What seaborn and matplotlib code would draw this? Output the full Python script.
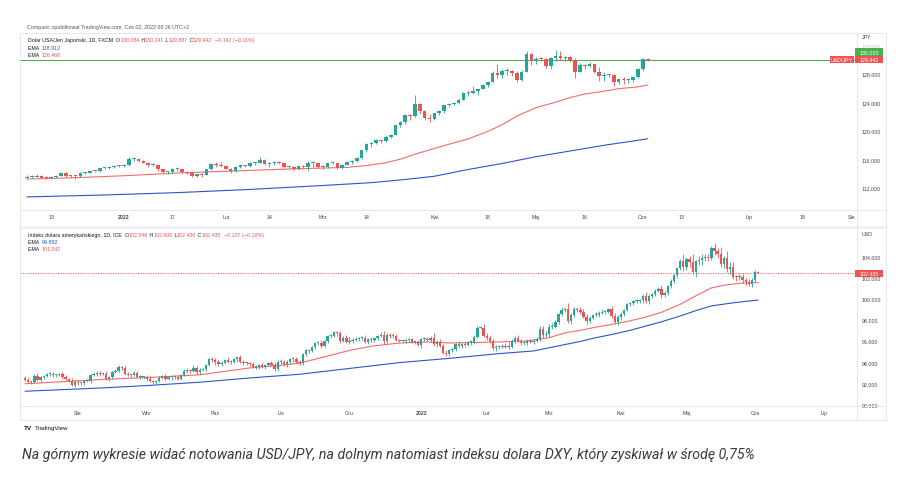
import matplotlib
matplotlib.use("Agg")
import matplotlib.pyplot as plt
from matplotlib.lines import Line2D
from matplotlib.patches import Rectangle
import numpy as np
import pandas as pd
import seaborn as sns

# ── USD/JPY daily candles, 2021-12-06 .. 2022-06-02 (weekdays) ───────────────
TOP_FIRST_OPEN = 113.45
TOP_CLOSE = [
    113.50, 113.55, 113.70, 113.45, 113.40,
    113.55, 113.75, 114.05, 113.70, 113.70,
    113.65, 114.10, 114.10, 114.40, 114.35,
    114.80, 114.80, 114.95, 115.10, 115.05,
    115.30, 116.10, 116.10, 115.85, 115.55,
    115.20, 115.30, 114.60, 114.20, 114.20,
    114.60, 114.60, 114.30, 114.10, 113.70,
    113.90, 113.85, 114.65, 115.35, 115.25,
    115.10, 114.70, 114.40, 114.95, 115.20,
    115.10, 115.55, 115.55, 116.00, 115.40,
    115.55, 115.65, 115.45, 114.90, 114.95,
    114.70, 115.05, 114.95, 115.50, 115.55,
    114.95, 114.90, 115.45, 115.50, 114.80,
    115.30, 115.70, 115.85, 116.15, 117.30,
    118.15, 118.30, 118.75, 118.60, 119.15,
    119.45, 120.80, 121.20, 122.30, 122.05,
    123.85, 122.85, 121.85, 121.70, 122.50,
    122.75, 123.60, 123.80, 123.95, 124.35,
    125.35, 125.35, 125.60, 125.90, 126.40,
    126.95, 128.15, 127.85, 128.40, 128.50,
    128.10, 127.20, 128.35, 130.80, 129.85,
    130.15, 130.10, 129.10, 130.20, 130.55,
    130.30, 130.45, 129.95, 128.35, 129.25,
    129.15, 129.40, 128.30, 127.80, 127.85,
    127.90, 126.85, 127.30, 127.10, 127.10,
    127.60, 128.70, 130.08, 129.94,
]
TOP_HIGH = [
    113.80, 113.80, 113.95, 113.80, 113.70,
    113.70, 113.85, 114.25, 114.25, 113.85,
    113.80, 114.20, 114.30, 114.45, 114.45,
    114.85, 115.00, 115.05, 115.20, 115.20,
    115.40, 116.35, 116.25, 116.20, 115.95,
    115.70, 115.55, 115.30, 114.65, 114.35,
    114.80, 114.90, 114.70, 114.45, 114.20,
    114.00, 114.05, 114.70, 115.45, 115.65,
    115.60, 115.20, 114.75, 115.15, 115.35,
    115.30, 115.70, 115.65, 116.35, 116.10,
    115.60, 115.80, 115.75, 115.50, 115.10,
    115.10, 115.20, 115.20, 115.75, 115.75,
    115.70, 115.20, 115.55, 115.80, 115.55,
    115.40, 115.80, 116.00, 116.30, 117.35,
    118.30, 118.45, 118.90, 118.80, 119.40,
    119.55, 120.90, 121.40, 122.40, 122.45,
    125.10, 124.00, 123.00, 122.40, 122.60,
    122.90, 123.70, 124.00, 124.05, 124.70,
    125.50, 125.65, 126.30, 125.90, 126.65,
    127.05, 128.40, 129.40, 128.65, 128.85,
    128.60, 128.45, 128.60, 131.25, 131.00,
    130.40, 130.35, 130.30, 130.40, 131.35,
    131.20, 130.50, 130.50, 130.20, 129.50,
    129.40, 129.75, 129.50, 128.95, 128.30,
    128.00, 127.95, 127.50, 127.55, 127.45,
    127.65, 128.85, 130.20, 130.24,
]
TOP_LOW = [
    113.35, 113.35, 113.50, 113.35, 113.25,
    113.30, 113.40, 113.65, 113.60, 113.50,
    113.20, 113.60, 113.95, 114.05, 114.20,
    114.30, 114.65, 114.70, 114.80, 114.95,
    114.95, 115.15, 115.80, 115.70, 115.45,
    115.00, 115.15, 114.45, 114.10, 113.95,
    114.15, 114.35, 114.15, 114.00, 113.60,
    113.50, 113.50, 113.80, 114.50, 115.00,
    114.95, 114.60, 114.15, 114.30, 114.75,
    114.90, 115.00, 115.30, 115.45, 115.30,
    115.00, 115.30, 115.40, 114.85, 114.80,
    114.50, 114.55, 114.85, 114.40, 115.00,
    114.75, 114.70, 114.80, 115.40, 114.70,
    114.65, 115.20, 115.40, 115.70, 116.10,
    117.10, 117.70, 118.20, 118.35, 118.50,
    119.00, 119.40, 120.50, 121.00, 121.60,
    121.95, 122.40, 121.50, 121.30, 121.60,
    122.30, 122.60, 123.40, 123.60, 123.85,
    124.30, 124.90, 125.20, 125.10, 125.90,
    126.20, 126.90, 127.50, 127.40, 127.85,
    127.75, 126.95, 127.00, 128.30, 129.30,
    129.45, 129.80, 128.80, 128.70, 129.90,
    130.00, 129.85, 129.70, 127.50, 128.40,
    128.65, 128.95, 128.20, 127.00, 127.05,
    127.55, 126.35, 126.60, 126.55, 126.75,
    126.85, 127.40, 128.50, 129.89,
]
TOP_EMA_RED_DATES = ["2021-12-06", "2021-12-20", "2022-01-04", "2022-01-18", "2022-02-01",
                     "2022-02-15", "2022-03-01", "2022-03-08", "2022-03-14", "2022-03-18",
                     "2022-03-23", "2022-03-28", "2022-04-01", "2022-04-06", "2022-04-12",
                     "2022-04-18", "2022-04-21", "2022-04-26", "2022-05-02", "2022-05-06",
                     "2022-05-11", "2022-05-16", "2022-05-20", "2022-05-25", "2022-05-31",
                     "2022-06-02"]
TOP_EMA_RED = [113.25, 113.45, 113.75, 114.10, 114.35, 114.60, 114.80, 114.90, 115.15,
               115.55, 116.05, 116.75, 117.55, 118.15, 118.90, 119.95, 120.90, 122.10,
               123.30, 124.05, 124.70, 125.20, 125.60, 125.95, 126.20, 126.47]
TOP_EMA_BLUE_DATES = ["2021-12-06", "2021-12-27", "2022-01-18", "2022-02-08", "2022-03-01",
                      "2022-03-15", "2022-03-24", "2022-04-01", "2022-04-12", "2022-04-21",
                      "2022-05-02", "2022-05-11", "2022-05-20", "2022-05-27", "2022-06-02"]
TOP_EMA_BLUE = [110.75, 111.00, 111.35, 111.80, 112.35, 112.75, 113.20, 113.65, 114.60,
                115.45, 116.40, 117.20, 118.00, 118.50, 118.91]

# ── DXY daily candles, 2021-07-08 .. 2022-06-02 (weekdays) ───────────────────
BOT_FIRST_OPEN = 92.55
BOT_CLOSE = [
    92.40, 92.15, 92.20, 92.75, 92.40, 92.65, 92.70, 92.90, 92.95, 92.80, 92.80, 92.90,
    92.65, 92.45, 92.30, 91.90, 92.20,
    92.05, 92.05, 92.30, 92.25, 92.80, 92.95, 93.05, 92.90, 92.95, 92.50, 92.60, 93.15,
    93.25, 93.55, 93.50, 92.95, 92.85, 92.85, 93.05, 92.65, 92.65, 92.65,
    92.50, 92.25, 92.15, 92.30, 92.55, 92.70, 92.50, 92.60, 92.65, 92.60, 92.50, 92.85,
    93.20, 93.25, 93.20, 93.45, 93.10, 93.30, 93.35, 93.75, 94.35, 94.25,
    94.05, 93.85, 94.00, 94.20, 94.05, 94.10, 94.30, 94.50, 94.05, 93.95, 93.95, 93.90,
    93.55, 93.60, 93.75, 93.60, 93.80, 93.95, 93.80, 93.35, 94.10,
    94.05, 93.90, 94.05, 94.35, 94.30, 94.05, 93.95, 94.85, 95.15, 95.10, 95.45, 95.85,
    95.85, 95.55, 96.05, 96.50, 96.50, 96.85, 96.75, 96.05, 96.35, 95.95,
    96.05, 96.15, 96.20, 96.30, 96.35, 95.95, 96.20, 96.10, 96.30, 96.55, 96.60, 96.00,
    96.65, 96.55, 96.50, 96.10, 96.05, 96.05, 96.10, 96.20, 95.95, 95.95, 95.65,
    96.20, 96.25, 96.15, 96.35, 95.75, 95.95, 95.60, 94.95, 94.80, 95.15, 95.25, 95.75,
    95.55, 95.75, 95.65, 95.90, 95.95, 96.45, 97.25, 97.25, 96.55,
    96.35, 96.00, 95.35, 95.50, 95.45, 95.60, 95.50, 95.50, 96.05, 96.30, 96.05, 95.85,
    95.85, 96.05, 95.95, 96.05, 96.20, 97.15, 96.60, 96.70,
    97.40, 97.40, 97.80, 98.60, 99.00, 99.05, 97.95, 98.50, 99.10, 99.00, 98.75, 98.35,
    97.95, 98.25, 98.50, 98.50, 98.65, 98.80, 98.80, 99.05, 98.40, 97.80, 98.30,
    98.60, 99.00, 99.50, 99.60, 99.80, 99.80, 99.90, 100.30, 99.80, 100.30, 100.50,
    100.80, 100.95, 100.40, 100.60, 101.20, 101.70, 102.30, 102.95, 103.60, 103.00,
    103.75, 103.45, 102.55, 103.55, 103.65, 103.90, 103.90, 103.85, 104.85, 104.55,
    104.20, 103.35, 103.85, 102.85, 103.05, 102.10, 102.05, 102.10, 101.80, 101.65,
    101.40, 101.75,
    102.55, 102.435,
]
BOT_WICK_UP = [
    .15, .20, .10, .15, .25, .10, .10, .15, .20, .20, .10, .15, .20, .15, .10, .25, .15,
    .20, .15, .10, .15, .10, .15, .15, .20, .10, .30, .15, .10, .15, .20, .10, .25, .15,
    .10, .15, .20, .15, .10,
    .15, .20, .10, .10, .15, .10, .20, .15, .10, .15, .25, .10, .15, .20, .15, .30, .20,
    .15, .10, .15, .10, .20,
    .15, .20, .15, .10, .30, .15, .15, .05, .20, .15, .10, .10, .20, .15, .15, .20, .10,
    .15, .20, .30, .10,
    .20, .15, .20, .10, .15, .20, .15, .10, .10, .15, .15, .10, .15, .25, .10, .15, .20,
    .10, .10, .25, .20, .30,
    .35, .15, .20, .15, .20, .30, .15, .20, .15, .10, .25, .35, .10, .15, .20, .20, .10,
    .10, .15, .15, .15, .10, .15,
    .10, .15, .20, .20, .40, .20, .25, .20, .20, .15, .10, .10, .25, .10, .20, .15, .15,
    .20, .20, .20, .35,
    .20, .25, .20, .20, .15, .15, .25, .40, .15, .20, .30, .15, .20, .15, .20, .15, .20,
    .30, .35, .25,
    .20, .30, .20, .10, .25, .20, .60, .20, .15, .15, .25, .30, .25, .15, .10, .30, .20,
    .25, .20, .10, .30, .25, .15,
    .20, .10, .15, .15, .10, .20, .10, .15, .40, .15, .10, .10, .20, .40, .15, .10, .15,
    .10, .10, .20, .60,
    .25, .30, .80, .15, .40, .30, .35, .30, .15, .40, .25, .70, .20, .65, .45, .40, .20,
    .25, .30, .20, .25, .20,
    .20, .06,
]
BOT_WICK_DOWN = [
    .15, .10, .20, .10, .15, .20, .15, .10, .15, .20, .15, .10, .15, .20, .15, .10, .20,
    .15, .20, .15, .10, .15, .10, .20, .15, .10, .15, .20, .15, .10, .15, .20, .10, .15,
    .20, .15, .10, .20, .15,
    .20, .10, .15, .20, .15, .10, .15, .10, .20, .15, .10, .15, .10, .20, .15, .10, .15,
    .20, .10, .15, .10, .15,
    .25, .15, .20, .15, .10, .20, .15, .20, .10, .20, .15, .20, .10, .15, .20, .15, .20,
    .10, .15, .10, .15,
    .15, .20, .30, .15, .20, .10, .20, .15, .20, .15, .10, .15, .20, .15, .10, .20, .15,
    .10, .25, .20, .15, .10,
    .15, .20, .10, .15, .20, .10, .20, .15, .20, .15, .10, .20, .15, .20, .15, .10, .15,
    .10, .20, .15, .10, .15, .10,
    .30, .15, .10, .20, .15, .25, .15, .10, .20, .15, .15, .20, .15, .20, .15, .10, .20,
    .20, .15, .10, .15,
    .20, .15, .20, .30, .15, .10, .15, .20, .15, .20, .15, .20, .15, .20, .10, .15, .10,
    .20, .25, .15,
    .30, .20, .15, .20, .20, .25, .20, .30, .20, .25, .20, .15, .30, .20, .15, .20, .15,
    .10, .20, .15, .20, .20, .25,
    .25, .20, .15, .20, .15, .20, .15, .25, .20, .25, .20, .20, .15, .30, .20, .25, .15,
    .20, .30, .20, .35,
    .30, .40, .20, .50, .30, .40, .35, .30, .20, .40, .35, .30, .40, .30, .45, .20, .35,
    .30, .25, .30, .20, .25,
    .15, .01,
]
BOT_EMA_RED_DATES = ["2021-07-08", "2021-08-11", "2021-09-02", "2021-09-24", "2021-10-08",
                     "2021-10-18", "2021-11-01", "2021-11-09", "2021-11-19", "2021-12-01",
                     "2021-12-10", "2021-12-23", "2022-01-05", "2022-01-14", "2022-01-26",
                     "2022-02-07", "2022-02-18", "2022-03-01", "2022-03-08", "2022-03-15",
                     "2022-03-22", "2022-03-29", "2022-04-06", "2022-04-13", "2022-04-20",
                     "2022-04-28", "2022-05-05", "2022-05-12", "2022-05-19", "2022-05-26",
                     "2022-06-02"]
BOT_EMA_RED = [92.00, 92.40, 92.60, 92.85, 93.25, 93.50, 93.75, 93.95, 94.55, 95.15,
               95.55, 95.85, 95.95, 95.85, 95.90, 95.95, 96.05, 96.35, 96.80, 97.05,
               97.35, 97.60, 97.95, 98.30, 98.75, 99.50, 100.30, 101.05, 101.35, 101.50,
               101.55]
BOT_EMA_BLUE_DATES = ["2021-07-08", "2021-08-11", "2021-09-02", "2021-09-24", "2021-10-18",
                      "2021-11-09", "2021-12-01", "2021-12-23", "2022-01-14", "2022-02-07",
                      "2022-02-22", "2022-03-01", "2022-03-08", "2022-03-15", "2022-03-22",
                      "2022-03-29", "2022-04-06", "2022-04-13", "2022-04-20", "2022-04-28",
                      "2022-05-05", "2022-05-12", "2022-05-20", "2022-05-27", "2022-06-02"]
BOT_EMA_BLUE = [91.30, 91.60, 91.85, 92.15, 92.55, 92.90, 93.45, 94.00, 94.40, 94.85,
                95.10, 95.40, 95.70, 96.00, 96.35, 96.65, 97.05, 97.45, 97.85, 98.40,
                98.90, 99.35, 99.60, 99.78, 99.90]

TOP_TICKS = [("2021-12-13", "13"), ("2022-01-03", "2022"), ("2022-01-17", "17"),
             ("2022-02-01", "Lut"), ("2022-02-14", "14"), ("2022-03-01", "Mrz"),
             ("2022-03-14", "14"), ("2022-04-01", "Kwi"), ("2022-04-18", "18"),
             ("2022-05-02", "Maj"), ("2022-05-16", "16"), ("2022-06-01", "Cze"),
             ("2022-06-13", "13"), ("2022-07-01", "Lip"), ("2022-07-18", "18"),
             ("2022-08-01", "Sie")]
BOT_TICKS = [("2021-08-02", "Sie"), ("2021-09-01", "Wrz"), ("2021-10-01", "Paź"),
             ("2021-11-01", "Lis"), ("2021-12-01", "Gru"), ("2022-01-03", "2022"),
             ("2022-02-01", "Lut"), ("2022-03-01", "Mrz"), ("2022-04-01", "Kwi"),
             ("2022-05-02", "Maj"), ("2022-06-01", "Cze"), ("2022-07-01", "Lip")]
TOP_YTICKS = [112, 116, 120, 124, 128, 132]
BOT_YTICKS = [90, 92, 94, 96, 98, 100, 102, 104]

CAPTION = ("Na górnym wykresie widać notowania USD/JPY, na dolnym natomiast indeksu "
           "dolara DXY, który zyskiwał w środę 0,75%")

# ── style ────────────────────────────────────────────────────────────────────
W, H = 903, 485
UP, DOWN = "#26a69a", "#ef5350"
RED_EMA, BLUE_EMA = "#f36b6b", "#2f55c4"
GRID = "#e0e3eb"
TXT = "#131722"
SCALE = "#434651"
FS = 3.8

sns.set_theme(style="white")
plt.rcParams["font.family"] = ["Liberation Sans", "DejaVu Sans"]

fig = plt.figure(figsize=(W / 100, H / 100), dpi=100)


def box(l, t, r, b):
    return [l / W, 1 - b / H, (r - l) / W, (b - t) / H]


def draw_candles(ax, first_open, close, high, low, min_body):
    close = np.asarray(close, float)
    opens = np.r_[first_open, close[:-1]]
    high = np.maximum(np.asarray(high, float), np.maximum(opens, close))
    low = np.minimum(np.asarray(low, float), np.minimum(opens, close))
    x = np.arange(len(close))
    cols = np.where(close >= opens, UP, DOWN)
    ax.vlines(x, low, high, colors=cols, linewidth=0.6, zorder=2)
    body = np.maximum(np.abs(close - opens), min_body)
    ax.bar(x, body, 0.75, bottom=np.minimum(opens, close), color=cols, linewidth=0, zorder=3)


def ema_line(ax, full_dates, dates, values, color):
    xs = full_dates.searchsorted(pd.to_datetime(dates))
    sns.lineplot(x=xs, y=values, ax=ax, color=color, linewidth=0.8, zorder=1)


def panel(ax, full_dates, ticks, yticks, ylim, xlim):
    ax.set_xlim(*xlim)
    ax.set_ylim(*ylim)
    pos = [full_dates.searchsorted(pd.Timestamp(d)) for d, _ in ticks]
    ax.set_xticks(pos)
    ax.set_xticklabels([s for _, s in ticks])
    for lab, (_, s) in zip(ax.get_xticklabels(), ticks):
        if s == "2022":
            lab.set_fontweight("bold")
    ax.set_yticks(yticks)
    ax.set_yticklabels([f"{v:.3f}" for v in yticks])
    ax.yaxis.tick_right()
    ax.tick_params(axis="x", length=0, pad=2.6, labelsize=FS, colors=SCALE)
    ax.tick_params(axis="y", length=0, pad=3.6, labelsize=FS, colors=SCALE)
    sns.despine(ax=ax, left=True, bottom=True, right=True, top=True)
    ax.grid(False)
    ax.set_facecolor("white")


# ── top panel: USD/JPY ───────────────────────────────────────────────────────
ax_top = fig.add_axes(box(20, 33, 857, 211))
top_full = pd.bdate_range("2021-12-06", "2022-09-30")
draw_candles(ax_top, TOP_FIRST_OPEN, TOP_CLOSE, TOP_HIGH, TOP_LOW, 0.14)
ema_line(ax_top, top_full, TOP_EMA_RED_DATES, TOP_EMA_RED, RED_EMA)
ema_line(ax_top, top_full, TOP_EMA_BLUE_DATES, TOP_EMA_BLUE, BLUE_EMA)
ax_top.axhline(130.0, color="#4caf50", linewidth=0.8, zorder=1)
panel(ax_top, top_full, TOP_TICKS, TOP_YTICKS, (108.91, 133.91), (-1.44, 171.14))
ax_top.get_yticklabels()[-1].set_alpha(0.35)

# ── bottom panel: DXY ────────────────────────────────────────────────────────
ax_bot = fig.add_axes(box(20, 229, 857, 407))
bot_close = np.asarray(BOT_CLOSE, float)
bot_open = np.r_[BOT_FIRST_OPEN, bot_close[:-1]]
bot_high = np.maximum(bot_open, bot_close) + np.asarray(BOT_WICK_UP)
bot_low = np.minimum(bot_open, bot_close) - np.asarray(BOT_WICK_DOWN)
bot_full = pd.bdate_range("2021-07-08", "2022-08-31")
draw_candles(ax_bot, BOT_FIRST_OPEN, bot_close, bot_high, bot_low, 0.094)
ema_line(ax_bot, bot_full, BOT_EMA_RED_DATES, BOT_EMA_RED, RED_EMA)
ema_line(ax_bot, bot_full, BOT_EMA_BLUE_DATES, BOT_EMA_BLUE, BLUE_EMA)
ax_bot.axhline(102.435, color=DOWN, linewidth=0.6, linestyle=(0, (1.5, 1.5)), zorder=1)
panel(ax_bot, bot_full, BOT_TICKS, BOT_YTICKS, (89.906, 106.70), (-1.6, 266.67))

# ── overlay in pixel coordinates: frame, labels, headers ─────────────────────
ov = fig.add_axes([0, 0, 1, 1])
ov.set_xlim(0, W)
ov.set_ylim(H, 0)
ov.axis("off")

for y in (33.5, 211, 407, 421):
    ov.add_line(Line2D([20, 886], [y, y], color=GRID, lw=0.6))
ov.add_line(Line2D([20, 886], [227.5, 227.5], color="#eef0f5", lw=1.8))
for x in (20, 857, 886):
    ov.add_line(Line2D([x, x], [33.5, 421], color=GRID, lw=0.6))


def tag(l, t, r, b, text, fc):
    ov.add_patch(Rectangle((l, t), r - l, b - t, fc=fc, ec="none", zorder=5))
    ov.text((l + r) / 2, (t + b) / 2 + 0.3, text, color="white", fontsize=FS,
            ha="center", va="center", zorder=6)


tag(855, 49.3, 883, 56.7, "130.000", "#4caf50")
tag(855, 56.7, 883, 64.0, "129.942", DOWN)
tag(830, 56.7, 854, 64.0, "USD/JPY", DOWN)
tag(855, 270.7, 883, 278.0, "102.435", DOWN)
ov.text(862, 37.5, "JPY", color=SCALE, fontsize=FS, va="center")
ov.text(862, 235, "USD", color=SCALE, fontsize=FS, va="center")


def text_row(x, y, parts):
    t = ov.text(x, y, parts[0][0], color=parts[0][1], fontsize=FS, va="center", ha="left")
    for s, c in parts[1:]:
        t = ov.annotate(s, xy=(1, 0.5), xycoords=t, color=c, fontsize=FS,
                        va="center", ha="left")


def ohlc_parts(name, o, h, l, c, chg):
    return [(name, TXT), ("O", TXT), (o, DOWN), (" H", TXT), (h, DOWN), (" L", TXT),
            (l, DOWN), (" C", TXT), (c, DOWN), ("  " + chg, DOWN)]


ov.text(27, 27, "Comparic opublikował TradingView.com, Cze 02, 2022 08:26 UTC+2",
        color="#555555", fontsize=FS, va="center")
text_row(28, 40.7, ohlc_parts("Dolar USA/Jen Japoński, 1D, FXCM  ", "130.084", "130.241",
                              "129.887", "129.942", "−0.142 (−0.11%)"))
text_row(28, 48.3, [("EMA  ", TXT), ("118.912", BLUE_EMA)])
text_row(28, 55.9, [("EMA  ", TXT), ("126.468", DOWN)])
text_row(28, 235.5, ohlc_parts("Indeks dolara amerykańskiego, 1D, ICE  ", "102.548",
                               "102.608", "102.430", "102.435", "−0.107 (−0.10%)"))
text_row(28, 242.5, [("EMA  ", TXT), ("99.892", BLUE_EMA)])
text_row(28, 249.5, [("EMA  ", TXT), ("101.547", DOWN)])

ov.text(24, 429, "TV", color=TXT, fontsize=4.6, fontweight="bold", va="center")
ov.text(35, 429, "TradingView", color=TXT, fontsize=4.4, va="center")

ov.text(22, 455, CAPTION, color="#3a3a3a", fontsize=10.2, family=["Roboto", "DejaVu Sans"],
        style="italic", va="center", ha="left")

fig.savefig("out.png", dpi=100)
